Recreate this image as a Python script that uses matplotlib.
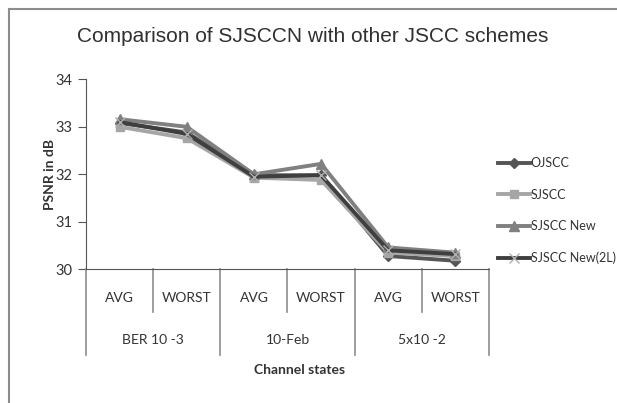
import matplotlib.pyplot as plt
from matplotlib.lines import Line2D

# Data
sub_labels = ["AVG", "WORST", "AVG", "WORST", "AVG", "WORST"]
group_labels = ["BER 10 -3", "10-Feb", "5x10 -2"]
series_names = ["OJSCC", "SJSCC", "SJSCC New", "SJSCC New(2L)"]
ojscc = [33.08, 32.88, 31.98, 31.98, 30.28, 30.18]
sjscc = [33.00, 32.76, 31.93, 31.88, 30.35, 30.28]
sjscc_new = [33.16, 33.00, 32.00, 32.22, 30.46, 30.35]
sjscc_new_2l = [33.10, 32.85, 31.95, 31.98, 30.40, 30.32]

plt.rcParams['font.family'] = ['Lato', 'DejaVu Sans']

fig = plt.figure(figsize=(6.17, 4.03), dpi=100)
W, H = 617.0, 403.0

# outer chart frame (left and top edges visible)
fig.add_artist(Line2D([9 / W, 9 / W], [0, 1 - 9 / H], color="#8c8c8c", lw=1.5))
fig.add_artist(Line2D([9 / W, 1], [1 - 9 / H, 1 - 9 / H], color="#8c8c8c", lw=1.5))

ax = fig.add_axes([86 / W, 1 - 269.3 / H, 403 / W, 190 / H])
x = list(range(len(sub_labels)))

styles = [
    (ojscc, "#555555", "D", 5, "#555555"),
    (sjscc, "#a6a6a6", "s", 6, "#a6a6a6"),
    (sjscc_new, "#808080", "^", 7, "#808080"),
    (sjscc_new_2l, "#3f3f3f", "x", 7, "#b0b0b0"),
]
for (vals, col, mk, ms, mcol), name in zip(styles, series_names):
    ax.plot(x, vals, color=col, lw=2.8, marker=mk, markersize=ms,
            markerfacecolor=mcol, markeredgecolor=mcol, label=name)

ax.set_xlim(-0.5, 5.5)
ax.set_ylim(30, 34)
ax.set_yticks([30, 31, 32, 33, 34])
ax.tick_params(axis="y", direction="out", length=6, color="#555555",
               labelsize=10.5, labelcolor="#333333", pad=4)
ax.set_xticks([])
for s in ["top", "right"]:
    ax.spines[s].set_visible(False)
ax.spines["left"].set_color("#555555")
ax.spines["bottom"].set_color("#555555")

# multi-level category axis
tr = ax.get_xaxis_transform()
short_y = -(312 - 269.3) / 190
long_y = -(355 - 269.3) / 190
for i in range(7):
    xb = i - 0.5
    y_end = long_y if i % 2 == 0 else short_y
    ax.plot([xb, xb], [0, y_end], transform=tr, color="#8c8c8c", lw=1.2,
            clip_on=False)
for i, lab in enumerate(sub_labels):
    ax.text(i, -(298 - 269.3) / 190, lab, transform=tr, ha="center",
            va="center", fontsize=10, color="#333333")
for g, lab in enumerate(group_labels):
    ax.text(2 * g + 0.5, -(340 - 269.3) / 190, lab, transform=tr,
            ha="center", va="center", fontsize=10, color="#333333")

fig.text(300 / W, 1 - 370 / H, "Channel states", ha="center", va="center",
         fontsize=10, fontweight="bold", color="#333333")
fig.text(50 / W, 1 - 174 / H, "PSNR in dB", ha="center", va="center",
         rotation=90, fontsize=10, fontweight="bold", color="#333333")
fig.text(313 / W, 1 - 37 / H, "Comparison of SJSCCN with other JSCC schemes",
         ha="center", va="center", fontsize=15, color="#303030",
         family=["Liberation Sans", "DejaVu Sans"])

fig.legend(loc="upper left", bbox_to_anchor=(487 / W, 1 - 146 / H),
           frameon=False, fontsize=9, handlelength=2.5, handletextpad=0.1,
           labelspacing=1.55, labelcolor="#333333")

fig.savefig("out.png", dpi=100)
